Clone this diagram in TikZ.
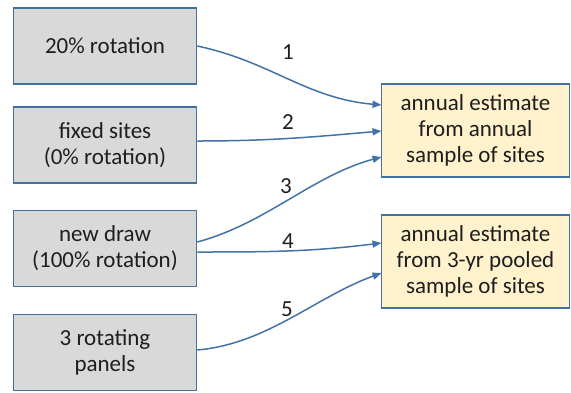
\documentclass[tikz,border=0pt]{standalone}
\usepackage{fontspec}
\setmainfont{Carlito}
\usetikzlibrary{arrows.meta}
\definecolor{boxedge}{HTML}{41719C}
\definecolor{grayfill}{HTML}{D9D9D9}
\definecolor{yellowfill}{HTML}{FFF2CC}
\definecolor{linkblue}{HTML}{4272A6}
\definecolor{textgray}{HTML}{1E1E1E}
\tikzset{
  srcbox/.style={draw=boxedge, line width=1.5pt, fill=grayfill, minimum width=183pt,
    minimum height=76pt, align=center, inner sep=0pt, text=textgray,
    font=\fontsize{23}{26}\selectfont},
  outbox/.style={draw=boxedge, line width=1.5pt, fill=yellowfill, minimum width=188pt,
    minimum height=93pt, align=center, inner sep=0pt, text=textgray,
    font=\fontsize{23}{26}\selectfont},
  link/.style={draw=linkblue, line width=1.5pt, -{Triangle[length=9pt,width=7pt]}},
  num/.style={text=textgray, font=\fontsize{23}{26}\selectfont, inner sep=0pt}
}
\begin{document}
\begin{tikzpicture}[x=1pt,y=-1pt]
\useasboundingbox (0,0) rectangle (571,392);
% sampling designs
\node[srcbox] (s1) at (105,46) {20\% rotation};
\node[srcbox] (s2) at (105,145) {fixed sites\\(0\% rotation)};
\node[srcbox] (s3) at (105,248.5) {new draw\\(100\% rotation)};
\node[srcbox] (s4) at (105,352.5) {3 rotating\\panels};
% estimates
\node[outbox] (e1) at (475.5,130.5) {annual estimate\\from annual\\sample of sites};
\node[outbox] (e2) at (475.5,261.5) {annual estimate\\from 3-yr pooled\\sample of sites};
% connectors
\coordinate (a1) at (381.5,105);
\coordinate (a2) at (381.5,131);
\coordinate (a3) at (381.5,157);
\coordinate (a4) at (381.5,243);
\coordinate (a5) at (381.5,273);
\draw[link] (s1.east) to[out=-12, in=175, looseness=1] (a1);
\draw[link] (s2.east |- 0,141) to[out=0, in=185] (a2);
\draw[link] (s3.east |- 0,242) to[out=15, in=195, looseness=0.9] (a3);
\draw[link] (s3.east |- 0,252) to[out=0, in=187] (a4);
\draw[link] (s4.east |- 0,350) to[out=5, in=200, looseness=0.9] (a5);
% labels
\node[num] (n1) at (288,52) {1};
\node[num] (n2) at (288,122) {2};
\node[num] (n3) at (286,186) {3};
\node[num] (n4) at (288,241) {4};
\node[num] (n5) at (287,309) {5};
\end{tikzpicture}
\end{document}
